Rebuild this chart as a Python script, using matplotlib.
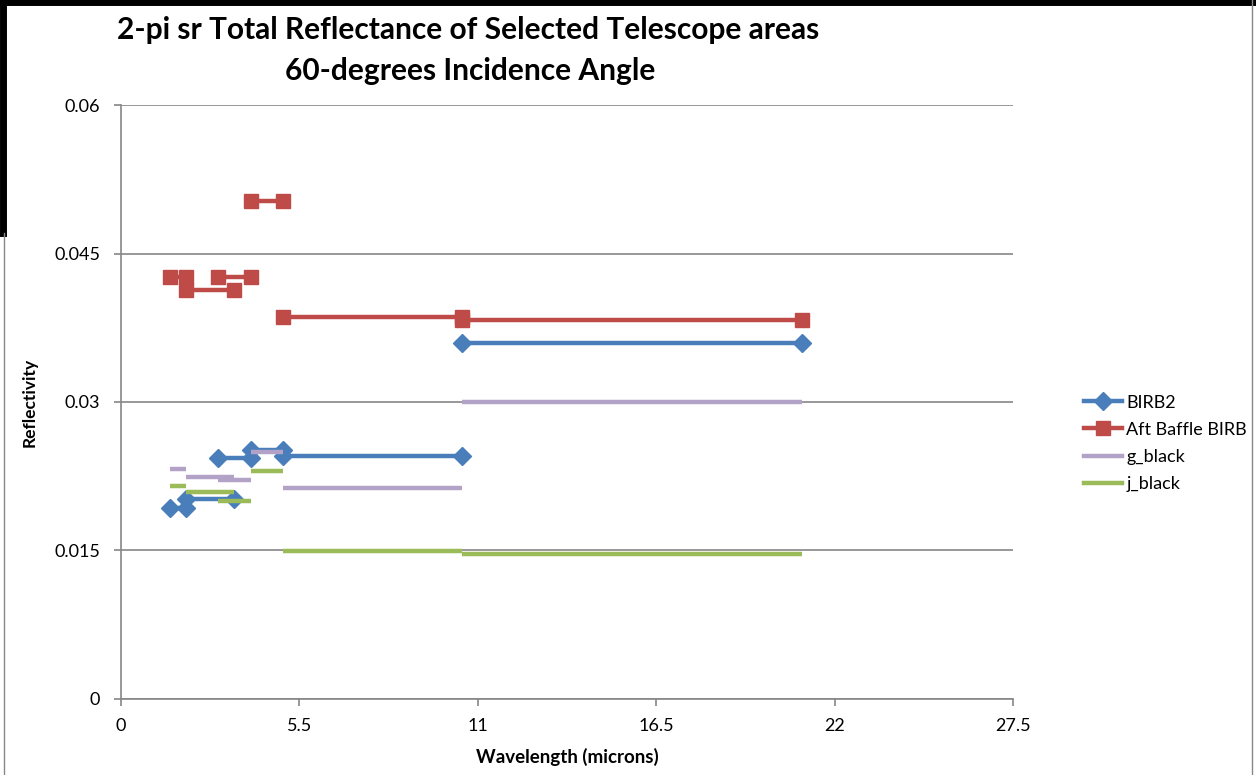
import numpy as np
import matplotlib
matplotlib.use("Agg")
import matplotlib.pyplot as plt
from matplotlib.lines import Line2D

plt.rcParams['font.family'] = ['Lato', 'DejaVu Sans']

# Wavelength bands (microns): each band is drawn as a horizontal segment
band_start = [1.5, 2.0, 3.0, 4.0, 5.0, 10.5]
band_end = [2.0, 3.5, 4.0, 5.0, 10.5, 21.0]

birb2 = [0.0193, 0.0202, 0.0243, 0.0251, 0.0245, 0.0360]
aft_baffle_birb = [0.0426, 0.0413, 0.0426, 0.0503, 0.0386, 0.0383]
g_black = [0.0232, 0.0224, 0.0221, 0.0249, 0.0213, 0.0300]
j_black = [0.0215, 0.0209, 0.0200, 0.0230, 0.0149, 0.0146]

x_ticks = [0, 5.5, 11, 16.5, 22, 27.5]
y_ticks = [0, 0.015, 0.03, 0.045, 0.06]

series = [
    ("BIRB2", birb2, "#4a7ebb", "D", 9),
    ("Aft Baffle BIRB", aft_baffle_birb, "#be4b48", "s", 9.5),
    ("g_black", g_black, "#b3a2c7", None, 0),
    ("j_black", j_black, "#9bbb59", None, 0),
]

fig = plt.figure(figsize=(12.56, 7.75), dpi=100)
ax = fig.add_axes([0.0963, 0.0981, 0.8065 - 0.0963, 0.8645 - 0.0981])

def segments(vals):
    xs, ys = [], []
    for s, e, v in zip(band_start, band_end, vals):
        xs += [s, e, np.nan]
        ys += [v, v, np.nan]
    return xs, ys

handles = []
for name, vals, color, marker, ms in series:
    xs, ys = segments(vals)
    ax.plot(xs, ys, color=color, lw=3.2, marker=marker, markersize=ms,
            markeredgecolor=color, solid_capstyle='butt', zorder=3)
    handles.append(Line2D([0], [0], color=color, lw=3.2, marker=marker,
                          markersize=ms, markeredgecolor=color))

ax.set_xlim(0, 27.5)
ax.set_ylim(0, 0.06)
ax.set_xticks(x_ticks)
ax.set_xticklabels(["0", "5.5", "11", "16.5", "22", "27.5"])
ax.set_yticks(y_ticks)
ax.set_yticklabels(["0", "0.015", "0.03", "0.045", "0.06"])
ax.yaxis.grid(True, color="#868686", lw=1.2)
ax.set_axisbelow(True)
for side in ("top", "right"):
    ax.spines[side].set_visible(False)
for side in ("left", "bottom"):
    ax.spines[side].set_color("#868686")
    ax.spines[side].set_linewidth(1.2)
ax.tick_params(axis="both", colors="#868686", length=5, width=1.2,
               labelsize=13, labelcolor="black", pad=10)
ax.tick_params(axis="x", pad=9)

ax.set_xlabel("Wavelength (microns)", fontsize=13.5, fontweight="bold", labelpad=10)
ax.set_ylabel("Reflectivity", fontsize=12.5, fontweight="bold", labelpad=12)

fig.text(0.3726, 0.961, "2-pi sr Total Reflectance of Selected Telescope areas",
         ha="center", va="center", fontsize=21.5, fontweight="bold")
fig.text(0.3742, 0.909, "60-degrees Incidence Angle",
         ha="center", va="center", fontsize=21.5, fontweight="bold")

fig.legend(handles, [s[0] for s in series], loc="center left",
           bbox_to_anchor=(0.850, 0.428), frameon=False, fontsize=13,
           handlelength=2.1, labelspacing=0.62, handletextpad=0.25)

# Chart frame
fig.add_artist(Line2D([0, 1], [0.997, 0.997], color="black", lw=5,
                      transform=fig.transFigure))
fig.add_artist(Line2D([0.002, 0.002], [1, 0.70], color="black", lw=5,
                      transform=fig.transFigure))
fig.add_artist(Line2D([0.0035, 0.0035], [0.70, 0], color="#888888", lw=1,
                      transform=fig.transFigure))
fig.add_artist(Line2D([0.997, 0.997], [1, 0], color="#888888", lw=1,
                      transform=fig.transFigure))

fig.savefig("out.png", dpi=100)
